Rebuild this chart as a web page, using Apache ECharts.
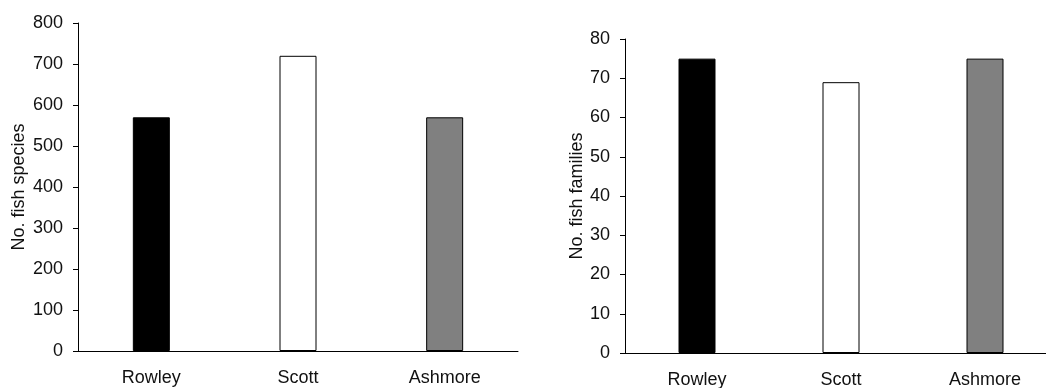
<!DOCTYPE html>
<html>
<head>
<meta charset="utf-8">
<script src="https://cdn.jsdelivr.net/npm/echarts@6/dist/echarts.min.js"></script>
<style>
html,body{margin:0;padding:0;background:#fff;}
#chart{width:1046px;height:388px;}
</style>
</head>
<body>
<div id="chart"></div>
<script>
// ---- data ----
const categories = ['Rowley', 'Scott', 'Ashmore'];
const speciesValues = [570, 720, 570];
const familiesValues = [75, 69, 75];
const speciesTicks = { min: 0, max: 800, interval: 100 };
const familiesTicks = { min: 0, max: 80, interval: 10 };
const speciesAxisName = 'No. fish species';
const familiesAxisName = 'No. fish families';

// ---- styles ----
const barFills = ['#000000', '#ffffff', '#808080'];
const FONT = 'Liberation Sans, Arial, sans-serif';
const FS = 18;
const textColor = '#111';

function toData(vals) {
  return vals.map((v, i) => ({ value: v, itemStyle: { color: barFills[i], borderColor: '#000', borderWidth: 1 } }));
}

function xAxis(gridIndex) {
  return {
    type: 'category', gridIndex, data: categories,
    axisLine: { lineStyle: { color: '#000', width: 1 } },
    axisTick: { show: false },
    axisLabel: { color: textColor, fontFamily: FONT, fontSize: FS, margin: 18 }
  };
}
function yAxis(gridIndex, ticks, name, gap) {
  return {
    type: 'value', gridIndex, min: ticks.min, max: ticks.max, interval: ticks.interval,
    name, nameLocation: 'middle', nameGap: gap,
    nameTextStyle: { color: textColor, fontFamily: FONT, fontSize: FS },
    axisLine: { show: true, lineStyle: { color: '#000', width: 1 } },
    axisTick: { show: true, length: 5, lineStyle: { color: '#000' } },
    splitLine: { show: false },
    axisLabel: { color: textColor, fontFamily: FONT, fontSize: FS, margin: 15 }
  };
}

const chart = echarts.init(document.getElementById('chart'), null, { renderer: 'canvas' });
chart.setOption({
  animation: false,
  backgroundColor: '#fff',
  grid: [
    { left: 78, width: 440, top: 23, bottom: 37, containLabel: false, outerBoundsMode: 'none' },
    { left: 625, width: 432, top: 39, bottom: 35, containLabel: false, outerBoundsMode: 'none' }
  ],
  xAxis: [xAxis(0), xAxis(1)],
  yAxis: [yAxis(0, speciesTicks, speciesAxisName, 50), yAxis(1, familiesTicks, familiesAxisName, 36)],
  series: [
    { type: 'bar', xAxisIndex: 0, yAxisIndex: 0, barWidth: 37, data: toData(speciesValues) },
    { type: 'bar', xAxisIndex: 1, yAxisIndex: 1, barWidth: 37, data: toData(familiesValues) }
  ]
});
</script>
</body>
</html>
